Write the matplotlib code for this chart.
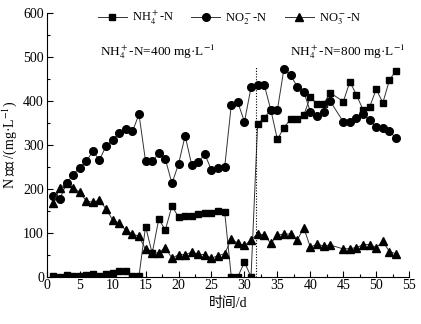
import matplotlib
matplotlib.use("Agg")
import matplotlib.pyplot as plt
from matplotlib.ticker import MultipleLocator

plt.rcParams['font.family'] = ['Liberation Serif', 'Noto Sans CJK SC']
plt.rcParams['mathtext.fontset'] = 'stix'

# Sampling days (no sample on day 44)
days = [1, 2, 3, 4, 5, 6, 7, 8, 9, 10, 11, 12, 13, 14, 15, 16, 17, 18, 19, 20,
        21, 22, 23, 24, 25, 26, 27, 28, 29, 30, 31, 32, 33, 34, 35, 36, 37, 38,
        39, 40, 41, 42, 43, 45, 46, 47, 48, 49, 50, 51, 52, 53]

nh4 = [2, 0, 3, 1, 2, 3, 6, 2, 5, 8, 14, 12, 1, 2, 114, 53, 131, 106, 161, 135,
       137, 139, 142, 145, 145, 149, 147, 0, 0, 33, 0, 347, 361, 379, 312, 339,
       358, 358, 367, 409, 392, 392, 418, 398, 443, 413, 379, 386, 426, 395,
       447, 468]

no2 = [184, 177, 212, 232, 248, 262, 285, 265, 297, 310, 327, 335, 330, 369,
       262, 262, 280, 267, 212, 256, 320, 254, 261, 278, 242, 246, 249, 390,
       396, 352, 430, 436, 436, 379, 379, 473, 458, 432, 420, 375, 366, 374,
       399, 352, 351, 360, 369, 355, 341, 337, 330, 315]

no3 = [167, 202, 212, 202, 192, 172, 169, 174, 154, 129, 121, 106, 97, 92, 62,
       53, 54, 66, 42, 50, 50, 56, 51, 50, 42, 48, 52, 85, 76, 71, 83, 98, 94,
       76, 94, 97, 97, 83, 111, 67, 74, 70, 72, 63, 64, 66, 73, 73, 66, 80, 57,
       52]

series_labels = [r'NH$_4^+$-N', r'NO$_2^-$-N', r'NO$_3^-$-N']
phase_labels = [r'NH$_4^+$-N=400 mg·L$^{-1}$', r'NH$_4^+$-N=800 mg·L$^{-1}$']
switch_day = 31.8

fig = plt.figure(figsize=(4.21, 3.24), dpi=100)
ax = fig.add_axes([0.111, 0.146, 0.861, 0.815])

line_kw = dict(color='#333333', lw=0.7, markerfacecolor='black',
               markeredgecolor='black')
h1, = ax.plot(days, nh4, marker='s', ms=5, label=series_labels[0], **line_kw)
h2, = ax.plot(days, no2, marker='o', ms=5.5, label=series_labels[1], **line_kw)
h3, = ax.plot(days, no3, marker='^', ms=6, label=series_labels[2], **line_kw)

ax.plot([switch_day, switch_day], [0, 478], color='black', lw=0.8,
        ls=(0, (1, 1.5)))

ax.text(8.1, 511, phase_labels[0], fontsize=9.5, va='center', ha='left')
ax.text(36.9, 511, phase_labels[1], fontsize=9.5, va='center', ha='left')

ax.set_xlim(0, 55)
ax.set_ylim(0, 600)
ax.xaxis.set_major_locator(MultipleLocator(5))
ax.xaxis.set_minor_locator(MultipleLocator(2.5))
ax.yaxis.set_major_locator(MultipleLocator(100))
ax.yaxis.set_minor_locator(MultipleLocator(50))
ax.tick_params(which='both', direction='in', labelsize=10, width=0.8,
               pad=2)
ax.tick_params(which='major', length=4)
ax.tick_params(which='minor', length=2)

for s in ['top', 'right']:
    ax.spines[s].set_visible(False)
for s in ['left', 'bottom']:
    ax.spines[s].set_linewidth(0.8)

ax.set_xlabel('时间/d', fontsize=10, labelpad=3)
ax.set_ylabel('N 浓度 /(mg·L$^{-1}$)', fontsize=10, labelpad=3)

ax.legend(handles=[h1, h2, h3], loc='center', ncol=3, frameon=False,
          fontsize=9, handlelength=2.3, handletextpad=0.4,
          columnspacing=1.4, bbox_to_anchor=(0.545, 0.944),
          bbox_transform=fig.transFigure)

fig.savefig('out.png', dpi=100)
